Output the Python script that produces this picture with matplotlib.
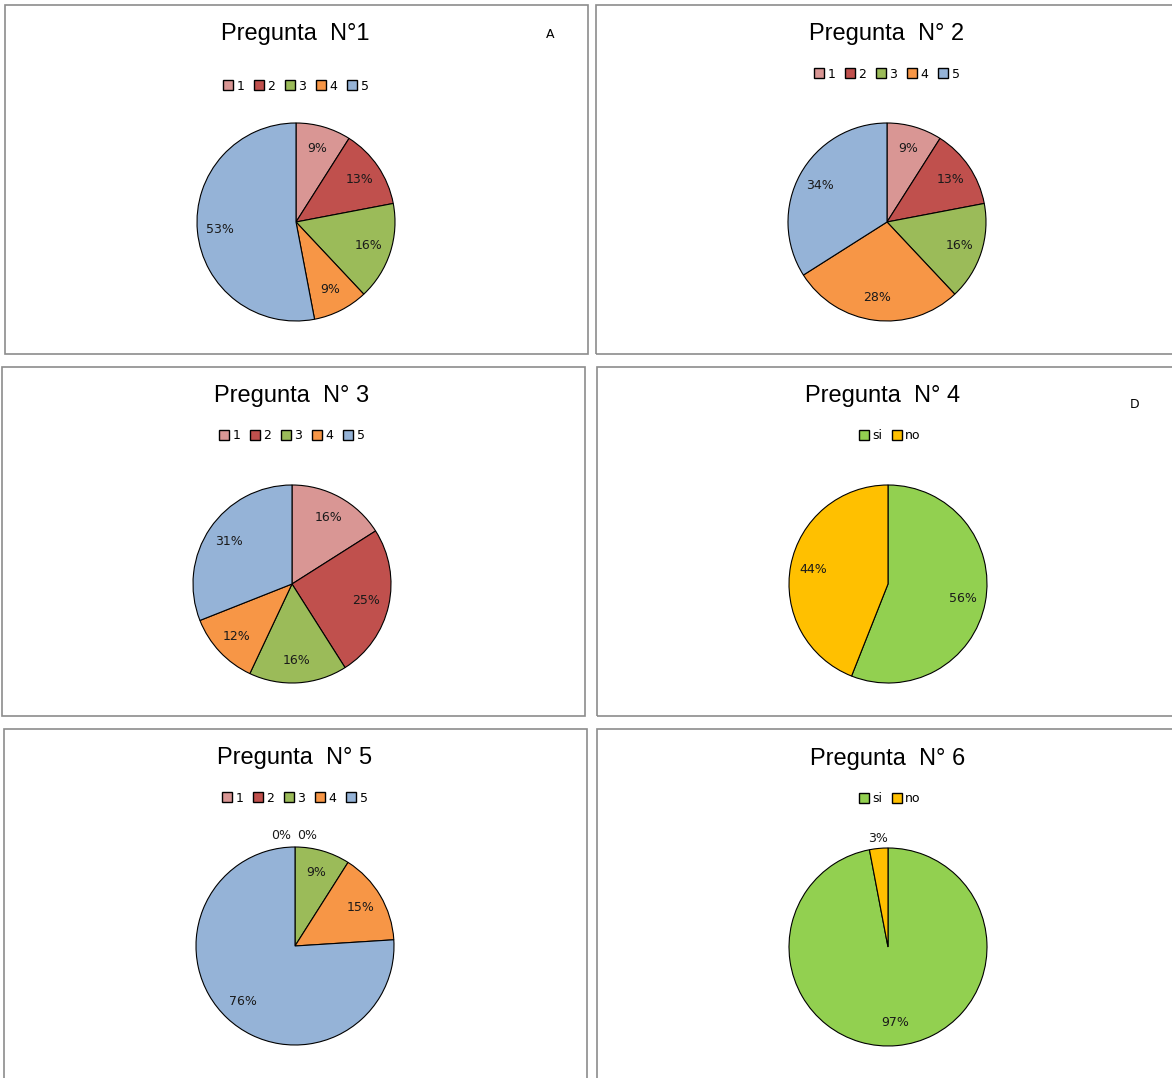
import matplotlib
matplotlib.use("Agg")
import matplotlib.pyplot as plt
from matplotlib.patches import Rectangle

W, H = 1172, 1078

# survey answers, in percent
escala = ["1", "2", "3", "4", "5"]
sino = ["si", "no"]
p1 = [9, 13, 16, 9, 53]
p2 = [9, 13, 16, 28, 34]
p3 = [16, 25, 16, 12, 31]
p4 = [56, 44]
p5 = [0, 0, 9, 15, 76]
p6 = [97, 3]

titulos = ["Pregunta  N°1", "Pregunta  N° 2", "Pregunta  N° 3",
           "Pregunta  N° 4", "Pregunta  N° 5", "Pregunta  N° 6"]

col_escala = ["#D99694", "#C0504D", "#9BBB59", "#F79646", "#95B3D7"]
col_sino = ["#92D050", "#FFC000"]

# panel layout in pixels: box (l, t, r, b), title pos, legend pos, pie centre
paneles = [
    dict(box=(5, 5, 588, 354), tx=295, ty=34, lx=296, ly=86, c=(296, 222)),
    dict(box=(596, 5, 1175, 354), tx=887, ty=34, lx=887, ly=74, c=(887, 222)),
    dict(box=(2, 367, 585, 716), tx=292, ty=396, lx=292, ly=436, c=(292, 584)),
    dict(box=(597, 367, 1175, 716), tx=883, ty=396, lx=890, ly=436, c=(888, 584)),
    dict(box=(4, 729, 587, 1081), tx=295, ty=758, lx=295, ly=798, c=(295, 946)),
    dict(box=(597, 729, 1175, 1081), tx=888, ty=759, lx=890, ly=799, c=(888, 947)),
]
datos = [(p1, escala, col_escala), (p2, escala, col_escala),
         (p3, escala, col_escala), (p4, sino, col_sino),
         (p5, escala, col_escala), (p6, sino, col_sino)]

R = 99  # pie radius in px


def fx(x):
    return x / W


def fy(y):
    return 1 - y / H


fig = plt.figure(figsize=(W / 100, H / 100), dpi=100)
fig.patch.set_facecolor("white")

for pan, (vals, labs, cols), tit in zip(paneles, datos, titulos):
    l, t, r, b = pan["box"]
    fig.patches.append(Rectangle((fx(l), fy(b)), fx(r - l), (b - t) / H,
                                 transform=fig.transFigure, fill=False,
                                 edgecolor="#8c8c8c", lw=1.2))
    fig.text(fx(pan["tx"]), fy(pan["ty"]), tit, ha="center", va="center",
             fontsize=17, family="Liberation Sans", color="black")

    cx, cy = pan["c"]
    ax = fig.add_axes([fx(cx - R), fy(cy + R), 2 * R / W, 2 * R / H])
    wedges, texts, autos = ax.pie(
        vals, colors=cols, startangle=90, counterclock=False,
        autopct="%.0f%%", pctdistance=0.77, radius=1.0,
        wedgeprops=dict(edgecolor="black", linewidth=0.8),
        textprops=dict(fontsize=9, color="#1a1a1a"))
    ax.set_xlim(-1, 1)
    ax.set_ylim(-1, 1)
    ax.set_aspect("equal")
    ax.axis("off")

    # thin or empty slices get their label just outside the rim
    ceros = [i for i, v in enumerate(vals) if v == 0]
    for k, i in enumerate(ceros):
        autos[i].set_position((-0.14 + 0.26 * k, 1.12))
    for i, v in enumerate(vals):
        if 0 < v < 5:
            x, y = autos[i].get_position()
            autos[i].set_position((x / 0.77 * 1.1, y / 0.77 * 1.1))

    handles = [Rectangle((0, 0), 1, 1, facecolor=c, edgecolor="black", lw=1.0)
               for c in cols]
    fig.legend(handles, labs, loc="center", ncol=len(labs),
               bbox_to_anchor=(fx(pan["lx"]), fy(pan["ly"])),
               frameon=False, fontsize=9, handlelength=0.8, handleheight=0.8,
               handletextpad=0.25, columnspacing=0.8, borderpad=0)

fig.text(fx(550), fy(34), "A", ha="center", va="center", fontsize=9)
fig.text(fx(1135), fy(404), "D", ha="center", va="center", fontsize=9)

fig.savefig("out.png", dpi=100)
